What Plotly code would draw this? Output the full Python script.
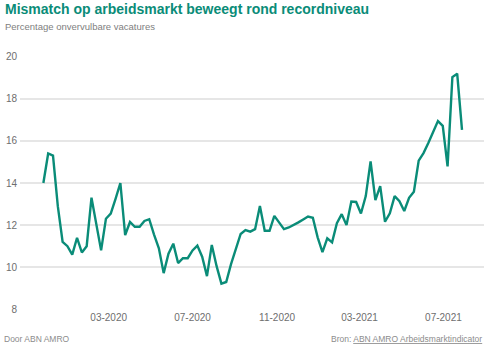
import pandas as pd
import plotly.graph_objects as go

# Weekly observations (percentage hard-to-fill vacancies)
start_date = "2019-11-27"
values = [
    14.0, 15.4, 15.3, 12.9, 11.2, 11.0, 10.6, 11.4, 10.7, 11.0,
    13.3, 12.05, 10.8, 12.3, 12.55, 13.25, 14.0, 11.53, 12.15, 11.92,
    11.92, 12.2, 12.28, 11.55, 10.9, 9.72, 10.64, 11.12, 10.2, 10.43,
    10.43, 10.8, 11.03, 10.5, 9.58, 11.06, 10.05, 9.22, 9.3, 10.15,
    10.9, 11.58, 11.76, 11.69, 11.81, 12.91, 11.73, 11.73, 12.44, 12.1,
    11.81, 11.89, 12.0, 12.13, 12.27, 12.41, 12.35, 11.42, 10.72, 11.37,
    11.18, 12.09, 12.52, 12.0, 13.12, 13.1, 12.55, 13.38, 15.03, 13.19,
    13.85, 12.16, 12.56, 13.38, 13.14, 12.67, 13.3, 13.59, 15.06, 15.42,
    15.9, 16.4, 16.94, 16.71, 14.79, 19.03, 19.19, 16.52,
]
dates = pd.date_range(start_date, periods=len(values), freq="7D")

y_ticks = [8, 10, 12, 14, 16, 18, 20]
x_ticks = ["2020-03-01", "2020-07-01", "2020-11-01", "2021-03-01", "2021-07-01"]
x_tick_labels = ["03-2020", "07-2020", "11-2020", "03-2021", "07-2021"]

title = "Mismatch op arbeidsmarkt beweegt rond recordniveau"
subtitle = "Percentage onvervulbare vacatures"
footer_left = "Door ABN AMRO"
footer_right = 'Bron: <span style="text-decoration:underline">ABN AMRO Arbeidsmarktindicator</span>'

TEAL = "#0a8c78"
FONT = "Liberation Sans, Arial, sans-serif"

W, H = 493, 346
left, right = 20, 484
top, bottom = 56, 310.5
plot_h = bottom - top
plot_w = right - left


def py(pix):
    return (bottom - pix) / plot_h


def px(pix):
    return (pix - left) / plot_w


fig = go.Figure()
fig.add_trace(go.Scatter(
    x=dates, y=values, mode="lines",
    line=dict(color=TEAL, width=2.4, shape="linear"),
    hoverinfo="x+y",
))

fig.update_layout(
    width=W, height=H,
    margin=dict(l=left, r=W - right, t=top, b=H - bottom, pad=0),
    paper_bgcolor="white", plot_bgcolor="white",
    showlegend=False,
    font=dict(family=FONT, color="#6e6e6e", size=10),
    xaxis=dict(
        range=["2019-10-24", "2021-08-29"],
        tickvals=x_ticks, ticktext=x_tick_labels,
        showgrid=False, zeroline=False, showline=False,
        ticks="", tickfont=dict(size=10, color="#6e6e6e"),
        automargin=False,
    ),
    yaxis=dict(
        range=[7.97, 20.03],
        tickvals=y_ticks,
        showgrid=True, gridcolor="#e6e6e6", gridwidth=1.6,
        zeroline=False, showline=False, ticks="",
        tickfont=dict(size=10, color="#6e6e6e"),
        ticklabelstandoff=2,
        automargin=False,
    ),
    annotations=[
        dict(text=f"<b>{title}</b>", xref="paper", yref="paper",
             x=px(3), y=py(8.8), xanchor="left", yanchor="middle",
             showarrow=False, font=dict(size=14, color=TEAL, family=FONT)),
        dict(text=subtitle, xref="paper", yref="paper",
             x=px(3), y=py(26.3), xanchor="left", yanchor="middle",
             showarrow=False, font=dict(size=9.5, color="#808080", family=FONT)),
        dict(text=footer_left, xref="paper", yref="paper",
             x=px(1.5), y=py(339.5), xanchor="left", yanchor="middle",
             showarrow=False, font=dict(size=8.5, color="#8c8c8c", family=FONT)),
        dict(text=footer_right, xref="paper", yref="paper",
             x=px(483.5), y=py(339.5), xanchor="right", yanchor="middle",
             showarrow=False, font=dict(size=8.5, color="#8c8c8c", family=FONT)),
    ],
)

fig.write_html("out.html")
